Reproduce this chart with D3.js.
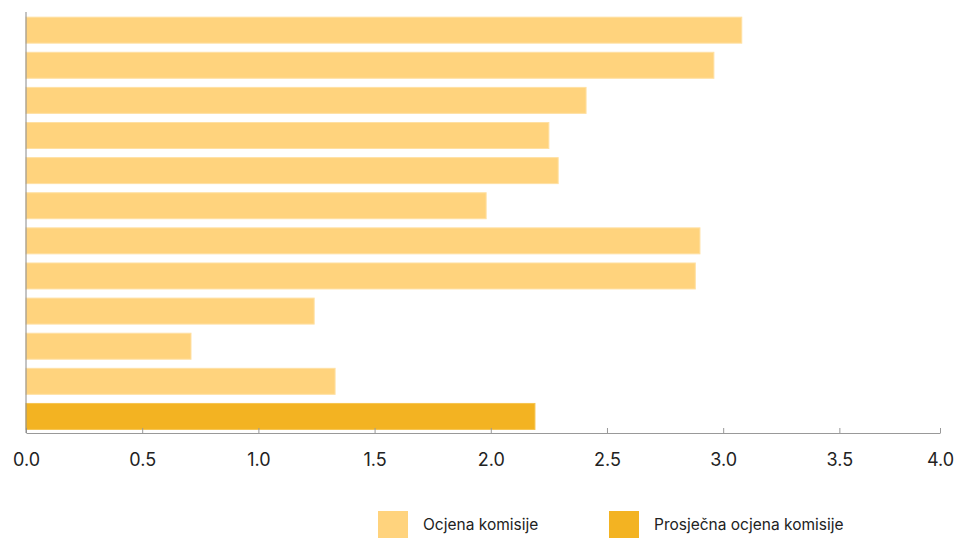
<!DOCTYPE html>
<html>
<head>
    <script src="https://d3js.org/d3.v7.min.js"></script>
    <style type="text/css">
        body { margin: 0; background: #fff; }
        text { font-family: "Inter", "Open Sans", sans-serif; fill: #222; }
    </style>
</head>
<body>
    <script type="text/javascript">

        var w = 957;
        var h = 538;

        // vrijednosti ocjena (zadnja je prosjek)
        var categories = ["1", "2", "3", "4", "5", "6", "7", "8", "9", "10", "11", "prosjek"];
        var values = [3.08, 2.96, 2.41, 2.25, 2.29, 1.98, 2.90, 2.88, 1.24, 0.71, 1.33, 2.19];
        var tickValues = [0, 0.5, 1.0, 1.5, 2.0, 2.5, 3.0, 3.5];
        var legendLabels = ["Ocjena komisije", "Prosječna ocjena komisije"];

        var light = "#FFD37D";
        var dark = "#F3B322";

        var svg = d3.select("body")
            .append("svg")
            .attr("width", w)
            .attr("height", h);

        // x skala: 0.5 = ~116px, os završava na 940
        var xMax = 3.933;
        var xScale = d3.scaleLinear()
            .domain([0, xMax])
            .range([26, 940]);

        var yScale = d3.scaleBand()
            .domain(categories)
            .range([12.6, 434])
            .paddingInner(0.26)
            .paddingOuter(0.13);

        // barovi
        svg.selectAll("rect.bar")
            .data(values)
            .enter()
            .append("rect")
            .attr("class", "bar")
            .attr("x", xScale(0))
            .attr("y", function(d, i) { return yScale(categories[i]); })
            .attr("width", function(d) { return xScale(d) - xScale(0); })
            .attr("height", yScale.bandwidth())
            .attr("fill", function(d, i) { return i === values.length - 1 ? dark : light; })
            .attr("stroke", function(d, i) { return i === values.length - 1 ? "#F6C44F" : "#FFE0A3"; })
            .attr("stroke-width", 1);

        // x os
        var xAxis = d3.axisBottom(xScale)
            .tickValues(tickValues.concat([xMax]))
            .tickSize(0)
            .tickFormat(function(d) { return d === xMax ? "4.0" : d3.format(".1f")(d); });

        var gx = svg.append("g")
            .attr("transform", "translate(0,433)")
            .call(xAxis);
        gx.select(".domain").attr("stroke", "#999");
        gx.selectAll(".tick line")
            .attr("y2", -5)
            .attr("stroke", "#999");
        gx.selectAll(".tick text")
            .attr("y", 20)
            .style("font-size", "18px")
            .style("font-family", "Inter, sans-serif")
            .attr("fill", "#222");

        // lijeva os
        svg.append("line")
            .attr("x1", xScale(0)).attr("x2", xScale(0))
            .attr("y1", 12).attr("y2", 433)
            .attr("stroke", "#888");

        // legenda
        var legendX = [378, 609];
        var legend = svg.selectAll("g.legend")
            .data(legendLabels)
            .enter()
            .append("g")
            .attr("class", "legend")
            .attr("transform", function(d, i) { return "translate(" + legendX[i] + ",511)"; });

        legend.append("rect")
            .attr("width", 30)
            .attr("height", 28)
            .attr("fill", function(d, i) { return i === 0 ? light : dark; });

        legend.append("text")
            .attr("x", 45)
            .attr("y", 19)
            .style("font-size", "15.5px")
            .text(function(d) { return d; });

    </script>
</body>
</html>
